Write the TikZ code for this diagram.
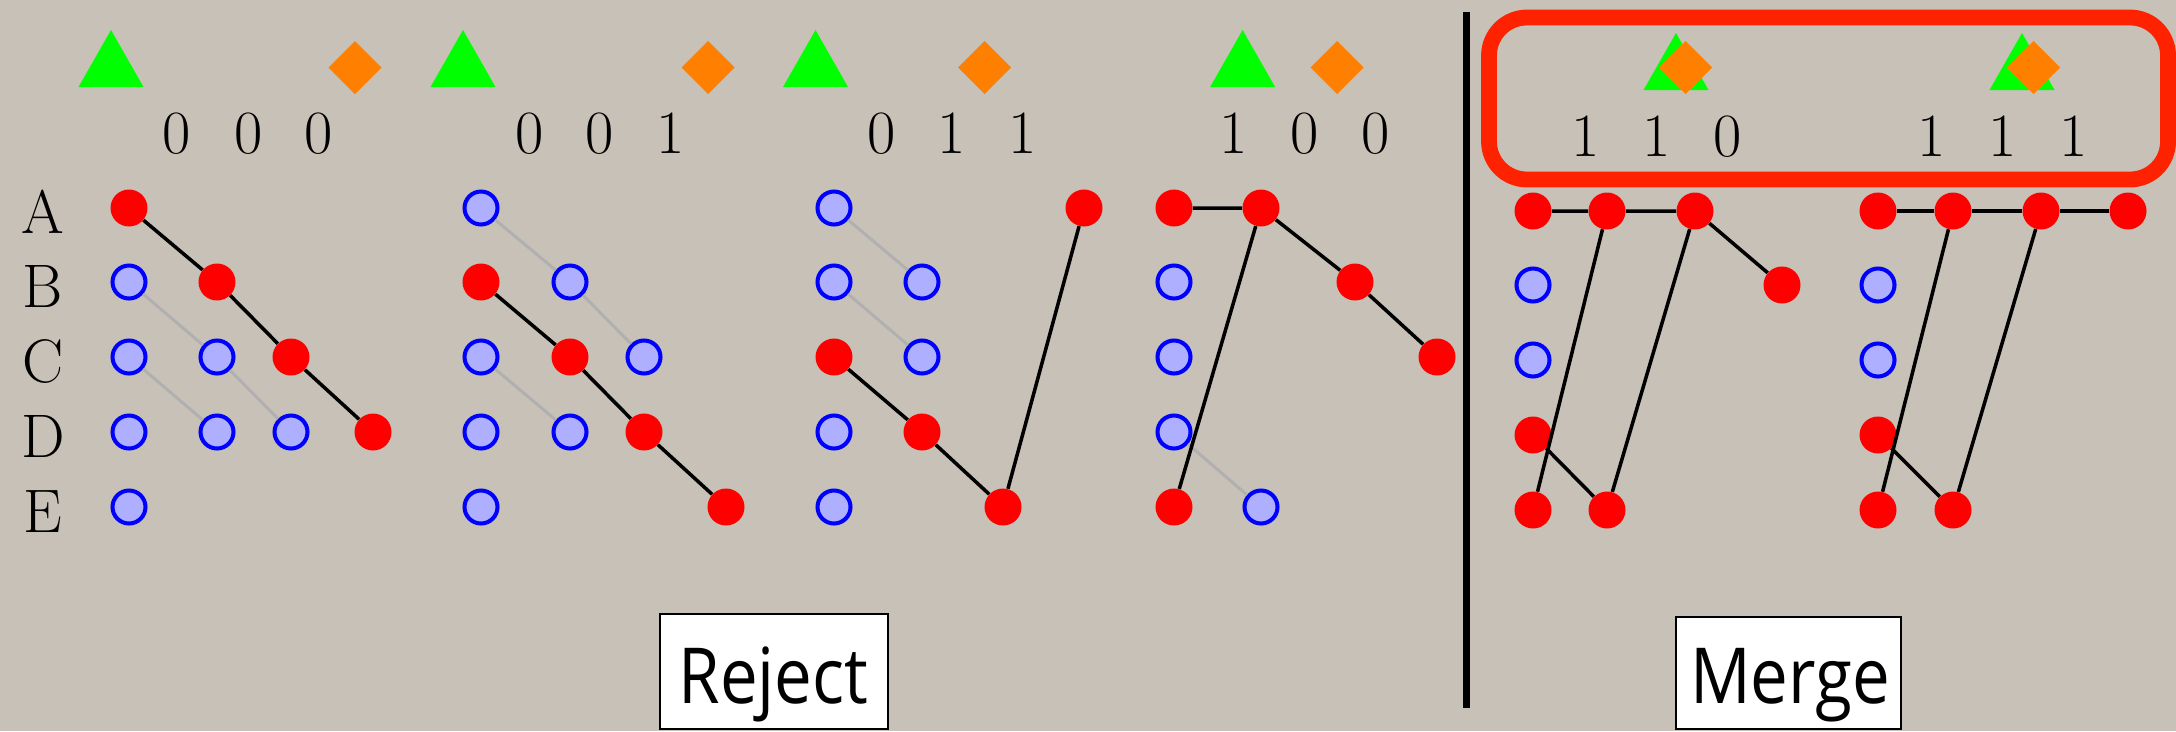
\documentclass[tikz,border=0pt]{standalone}
\usepackage{fontspec}
\newfontfamily\boxfont[FakeStretch=0.87]{Open Sans}
\definecolor{paper}{HTML}{C8C1B7}
\definecolor{hitred}{HTML}{FF0000}
\definecolor{missblue}{HTML}{0000FF}
\definecolor{missfill}{HTML}{AFAFFF}
\definecolor{ghostgray}{HTML}{B0B0B0}
\definecolor{markgreen}{HTML}{00FF00}
\definecolor{markorange}{HTML}{FF8000}
\definecolor{framered}{HTML}{FF2200}
\tikzset{
  hit/.style={circle, fill=hitred, minimum size=0.74cm, inner sep=0pt},
  miss/.style={circle, draw=missblue, fill=missfill, line width=2.3pt, minimum size=0.66cm, inner sep=0pt},
  link/.style={line width=2pt, black},
  ghost/.style={line width=1.7pt, ghostgray},
  digit/.style={font=\fontsize{35}{40}\selectfont, anchor=base, inner sep=0pt},
  rowlabel/.style={font=\fontsize{35}{40}\selectfont, anchor=base, inner sep=0pt},
  boxlabel/.style={font=\boxfont\fontsize{44}{50}\selectfont, anchor=base, inner sep=0pt},
  greentri/.pic={\fill[markgreen] (0,-28.5) -- (32.5,28.5) -- (-32.5,28.5) -- cycle;},
  orangedia/.pic={\fill[markorange] (0,-26.5) -- (26.5,0) -- (0,26.5) -- (-26.5,0) -- cycle;}
}
\begin{document}
\begin{tikzpicture}[x=0.02cm, y=-0.02cm]
\useasboundingbox (0,0) rectangle (2176,731);
\fill[paper] (0,0) rectangle (2176,731);

% row labels
\foreach \r/\y in {A/208,B/282,C/357,D/432,E/507}
  \node[rowlabel] (row\r) at (43,\y+25) {\r};

% markers
\pic at (111,58.5) {greentri};   \pic at (355,67.5) {orangedia};
\pic at (463,58.5) {greentri};   \pic at (708,67.5) {orangedia};
\pic at (815.5,58.5) {greentri}; \pic at (984.5,67.5) {orangedia};
\pic at (1242.6,58.5) {greentri}; \pic at (1337,67.5) {orangedia};
\pic at (1676,61.5) {greentri};  \pic at (1685.6,67.5) {orangedia};
\pic at (2022,61.5) {greentri};  \pic at (2033.5,67.5) {orangedia};

% bit patterns
\foreach \x/\t [count=\i] in {177/0,249/0,319/0} \node[digit] (da\i) at (\x,153) {\t};
\foreach \x/\t [count=\i] in {530/0,600/0,671/1} \node[digit] (db\i) at (\x,153) {\t};
\foreach \x/\t [count=\i] in {882/0,952/1,1023/1} \node[digit] (dc\i) at (\x,153) {\t};
\foreach \x/\t [count=\i] in {1234/1,1305/0,1376/0} \node[digit] (dd\i) at (\x,153) {\t};
\foreach \x/\t [count=\i] in {1586/1,1657/1,1728/0} \node[digit] (de\i) at (\x,156) {\t};
\foreach \x/\t [count=\i] in {1932/1,2003/1,2074/1} \node[digit] (df\i) at (\x,156) {\t};

% panel 000
\node[hit]  (p1A0) at (129,208) {};
\node[miss] (p1B0) at (129,282) {};
\node[hit]  (p1B1) at (217,282) {};
\node[miss] (p1C0) at (129,357) {};
\node[miss] (p1C1) at (217,357) {};
\node[hit]  (p1C2) at (291,357) {};
\node[miss] (p1D0) at (129,432) {};
\node[miss] (p1D1) at (217,432) {};
\node[miss] (p1D2) at (291,432) {};
\node[hit]  (p1D3) at (373,432) {};
\node[miss] (p1E0) at (129,507) {};
\draw[ghost] (p1B0) -- (p1C1) -- (p1D2);
\draw[ghost] (p1C0) -- (p1D1);
\draw[link] (p1A0) -- (p1B1) -- (p1C2) -- (p1D3);

% panel 001
\node[miss] (p2A0) at (481,208) {};
\node[hit]  (p2B0) at (481,282) {};
\node[miss] (p2B1) at (570,282) {};
\node[miss] (p2C0) at (481,357) {};
\node[hit]  (p2C1) at (570,357) {};
\node[miss] (p2C2) at (644,357) {};
\node[miss] (p2D0) at (481,432) {};
\node[miss] (p2D1) at (570,432) {};
\node[hit]  (p2D2) at (644,432) {};
\node[miss] (p2E0) at (481,507) {};
\node[hit]  (p2E3) at (726,507) {};
\draw[ghost] (p2A0) -- (p2B1) -- (p2C2);
\draw[ghost] (p2C0) -- (p2D1);
\draw[link] (p2B0) -- (p2C1) -- (p2D2) -- (p2E3);

% panel 011
\node[miss] (p3A0) at (834,208) {};
\node[hit]  (p3A3) at (1084,208) {};
\node[miss] (p3B0) at (834,282) {};
\node[miss] (p3B1) at (922,282) {};
\node[hit]  (p3C0) at (834,357) {};
\node[miss] (p3C1) at (922,357) {};
\node[miss] (p3D0) at (834,432) {};
\node[hit]  (p3D1) at (922,432) {};
\node[miss] (p3E0) at (834,507) {};
\node[hit]  (p3E2) at (1003,507) {};
\draw[ghost] (p3A0) -- (p3B1);
\draw[ghost] (p3B0) -- (p3C1);
\draw[link] (p3C0) -- (p3D1) -- (p3E2) -- (p3A3);

% panel 100
\node[hit]  (p4A0) at (1174,208) {};
\node[hit]  (p4A1) at (1261,208) {};
\node[miss] (p4B0) at (1174,282) {};
\node[hit]  (p4B2) at (1355,282) {};
\node[miss] (p4C0) at (1174,357) {};
\node[hit]  (p4C3) at (1437,357) {};
\node[miss] (p4D0) at (1174,432) {};
\node[hit]  (p4E0) at (1174,507) {};
\node[miss] (p4E1) at (1261,507) {};
\draw[ghost] (p4D0) -- (p4E1);
\draw[link] (p4A0) -- (p4A1) -- (p4B2) -- (p4C3);
\draw[link] (p4E0) -- (p4A1);

% divider
\draw[line width=4pt] (1466,12) -- (1466,708);

% panel 110
\node[hit]  (p5A0) at (1533,211) {};
\node[hit]  (p5A1) at (1607,211) {};
\node[hit]  (p5A2) at (1695,211) {};
\node[miss] (p5B0) at (1533,285) {};
\node[hit]  (p5B3) at (1782,285) {};
\node[miss] (p5C0) at (1533,360) {};
\node[hit]  (p5D0) at (1533,435) {};
\node[hit]  (p5E0) at (1533,510) {};
\node[hit]  (p5E1) at (1607,510) {};
\draw[link] (p5A0) -- (p5A1) -- (p5A2) -- (p5B3);
\draw[link] (p5A1) -- (p5E0);
\draw[link] (p5A2) -- (p5E1);
\draw[link] (p5D0) -- (p5E1);

% panel 111
\node[hit]  (p6A0) at (1878,211) {};
\node[hit]  (p6A1) at (1953,211) {};
\node[hit]  (p6A2) at (2041,211) {};
\node[hit]  (p6A3) at (2128,211) {};
\node[miss] (p6B0) at (1878,285) {};
\node[miss] (p6C0) at (1878,360) {};
\node[hit]  (p6D0) at (1878,435) {};
\node[hit]  (p6E0) at (1878,510) {};
\node[hit]  (p6E1) at (1953,510) {};
\draw[link] (p6A0) -- (p6A1) -- (p6A2) -- (p6A3);
\draw[link] (p6A1) -- (p6E0);
\draw[link] (p6A2) -- (p6E1);
\draw[link] (p6D0) -- (p6E1);

% highlight frame round the merged patterns
\draw[framered, line width=9pt, rounded corners=0.76cm] (1489,17.5) rectangle (2168,179.5);

% outcome boxes
\draw[fill=white, line width=1.5pt] (660,614) rectangle (888,729);
\node[boxlabel] (reject) at (773.5,703) {Reject};
\draw[fill=white, line width=1.5pt] (1676,617) rectangle (1901,729);
\node[boxlabel] (merge) at (1790,703) {Merge};
\end{tikzpicture}
\end{document}
